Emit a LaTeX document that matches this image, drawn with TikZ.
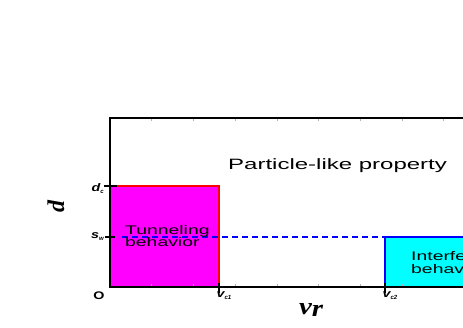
\documentclass[tikz,border=0pt]{standalone}
\usepackage{graphicx}
\usepackage{fontspec}
\setmainfont{Liberation Sans}
\newfontfamily\timesfont{Liberation Serif}
\definecolor{mag}{RGB}{255,0,255}
\definecolor{cy}{RGB}{0,255,255}
\definecolor{bl}{RGB}{0,0,255}
\definecolor{rd}{RGB}{255,0,0}
\begin{document}
\begin{tikzpicture}[x=1pt,y=-1pt,
  axis/.style={line width=1.5pt,black},
  minortick/.style={line width=0.5pt,gray!60},
  bigtxt/.style={inner sep=0pt,anchor=base west,font=\fontsize{15}{15}\selectfont},
  midtxt/.style={inner sep=0pt,anchor=base west,font=\fontsize{12.5}{12.5}\selectfont},
  smalllbl/.style={inner sep=0pt,font=\fontsize{11}{11}\selectfont\bfseries\itshape},
  axlbl/.style={inner sep=0pt,font=\fontsize{24}{24}\selectfont\timesfont\bfseries\itshape}]
\useasboundingbox (0,0) rectangle (463,327);
\begin{scope}
\clip (0,0) rectangle (463,327);
% regions
\fill[mag] (110,186) rectangle (219,287);
\fill[cy] (385,237) rectangle (470,287);
% dashed s_w line
\draw[bl,line width=1.1pt,dash pattern=on 6pt off 4pt] (122,237) -- (385,237);
% region borders
\draw[rd,line width=1.8pt] (110,186) -- (219,186) -- (219,287);
\draw[bl,line width=1.8pt] (385,287) -- (385,237) -- (470,237);
% minor ticks
\foreach \k in {1,...,9}{
  \draw[minortick] (110+41.7*\k,118) -- ++(0,3);
  \draw[minortick] (110+41.7*\k,287) -- ++(0,-3);
}
% axes frame
\draw[axis] (470,118) -- (110,118) -- (110,287) -- (470,287);
% major ticks
\coordinate (dc) at (110,186);
\coordinate (sw) at (110,237);
\coordinate (vc1) at (219,287);
\coordinate (vc2) at (385,287);
\draw[line width=1.5pt] (dc) ++(-6,0) -- ++(13,0);
\draw[line width=1.2pt] (sw) ++(-5,0) -- ++(10,0);
\draw[line width=1.5pt] (vc1) ++(0,-4) -- ++(0,10);
\draw[line width=1.5pt] (vc2) ++(0,-4) -- ++(0,10);
% texts
\node[bigtxt] (particle) at (228,169) {\scalebox{1.6}[1]{Particle-like property}};
\node[midtxt] (tun1) at (125,234) {\scalebox{1.55}[1]{Tunneling}};
\node[midtxt] (tun2) at (125,246) {\scalebox{1.55}[1]{behavior}};
\node[midtxt] (int1) at (411,260) {\scalebox{1.55}[1]{Interference}};
\node[midtxt] (int2) at (411,273) {\scalebox{1.55}[1]{behavior}};
% labels
\node[smalllbl,anchor=east] (dclbl) at (104,189) {\scalebox{1.3}[1]{d}\raisebox{-2pt}{\fontsize{6}{6}\selectfont c}};
\node[smalllbl,anchor=east] (swlbl) at (104,237) {\scalebox{1.3}[1]{s}\raisebox{-2pt}{\fontsize{6}{6}\selectfont w}};
\node[smalllbl,anchor=north] (vc1lbl) at (224,291) {\scalebox{1.3}[1]{v}\raisebox{-2pt}{\fontsize{6}{6}\selectfont c1}};
\node[smalllbl,anchor=north] (vc2lbl) at (390,291) {\scalebox{1.3}[1]{v}\raisebox{-2pt}{\fontsize{6}{6}\selectfont c2}};
\node[inner sep=0pt,font=\fontsize{11}{11}\selectfont\bfseries] (origin) at (99,296) {\scalebox{1.3}[1]{O}};
\node[axlbl] (ylbl) at (56,206) {\rotatebox{90}{d}};
\node[axlbl,anchor=base] (xlbl) at (311,314) {\scalebox{1.2}[1]{v\raisebox{-2pt}{r}}};
\end{scope}
\end{tikzpicture}
\end{document}
